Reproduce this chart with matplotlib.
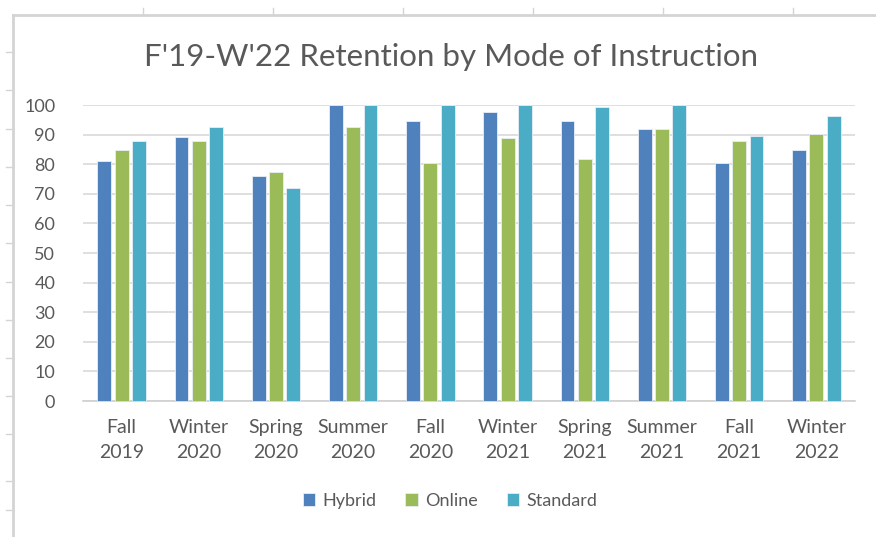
import numpy as np
import matplotlib.pyplot as plt
from matplotlib.lines import Line2D

# data
terms = ["Fall\n2019", "Winter\n2020", "Spring\n2020", "Summer\n2020", "Fall\n2020",
         "Winter\n2021", "Spring\n2021", "Summer\n2021", "Fall\n2021", "Winter\n2022"]
hybrid = [81.1, 89.1, 76.1, 100, 94.5, 97.5, 94.5, 92.0, 80.4, 84.7]
online = [84.8, 87.7, 77.4, 92.7, 80.4, 89.0, 81.6, 92.0, 87.7, 90.3]
standard = [87.8, 92.7, 71.9, 100, 100, 100, 99.4, 100, 89.5, 96.4]
series = ["Hybrid", "Online", "Standard"]
colors = ["#4F81BD", "#9BBB59", "#4BACC6"]

plt.rcParams["font.family"] = ["Lato", "DejaVu Sans"]
text_gray = "#595959"

W, H = 876, 537
fig = plt.figure(figsize=(W / 100, H / 100), dpi=100)


def fx(px):
    return px / W


def fy(py):
    return 1 - py / H


# spreadsheet cell borders behind the chart
sheet = "#D4D4D4"
fig.add_artist(Line2D([fx(13), 1], [fy(15), fy(15)], color=sheet, lw=2))
fig.add_artist(Line2D([fx(13), fx(13)], [fy(15), 0], color=sheet, lw=2))
for x in [143, 273, 403, 533, 663, 793]:
    fig.add_artist(Line2D([fx(x), fx(x)], [fy(8), fy(15)], color=sheet, lw=1))
for y in [52, 90, 129, 167, 205, 243, 282, 320, 358, 396, 434, 481, 510]:
    fig.add_artist(Line2D([fx(6), fx(13)], [fy(y), fy(y)], color=sheet, lw=1))

ax = fig.add_axes([fx(83), fy(401), fx(855) - fx(83), fy(105) - fy(401)])

x = np.arange(len(terms))
width = 0.18
step = 0.224
for i, (name, vals) in enumerate(zip(series, [hybrid, online, standard])):
    ax.bar(x + (i - 1) * step, vals, width, color=colors[i], label=name,
           edgecolor="#E8EEF6", linewidth=0.6, zorder=3)

ax.set_xlim(-0.5, len(terms) - 0.5)
ax.set_ylim(0, 100)
ax.set_yticks(range(0, 101, 10))
ax.set_xticks(x)
ax.set_xticklabels(terms, linespacing=1.55, fontsize=14)
ax.tick_params(axis="both", length=0, labelcolor=text_gray)
ax.tick_params(axis="y", pad=20, labelsize=13)
ax.tick_params(axis="x", pad=13)
ax.grid(axis="y", color="#D9D9D9", linewidth=1.2, zorder=0)
for side in ["top", "right", "left"]:
    ax.spines[side].set_visible(False)
ax.spines["bottom"].set_color("#D0D0D0")
ax.spines["bottom"].set_linewidth(1.2)

fig.text(fx(451), fy(57), "F'19-W'22 Retention by Mode of Instruction",
         ha="center", va="center", fontsize=22.5, color=text_gray)

fig.legend(loc="center", bbox_to_anchor=(fx(450), fy(501)), ncol=3,
           frameon=False, handlelength=0.7, handleheight=0.7, handletextpad=0.4,
           columnspacing=1.6, fontsize=13, labelcolor=text_gray)

fig.savefig("out.png", dpi=100)
